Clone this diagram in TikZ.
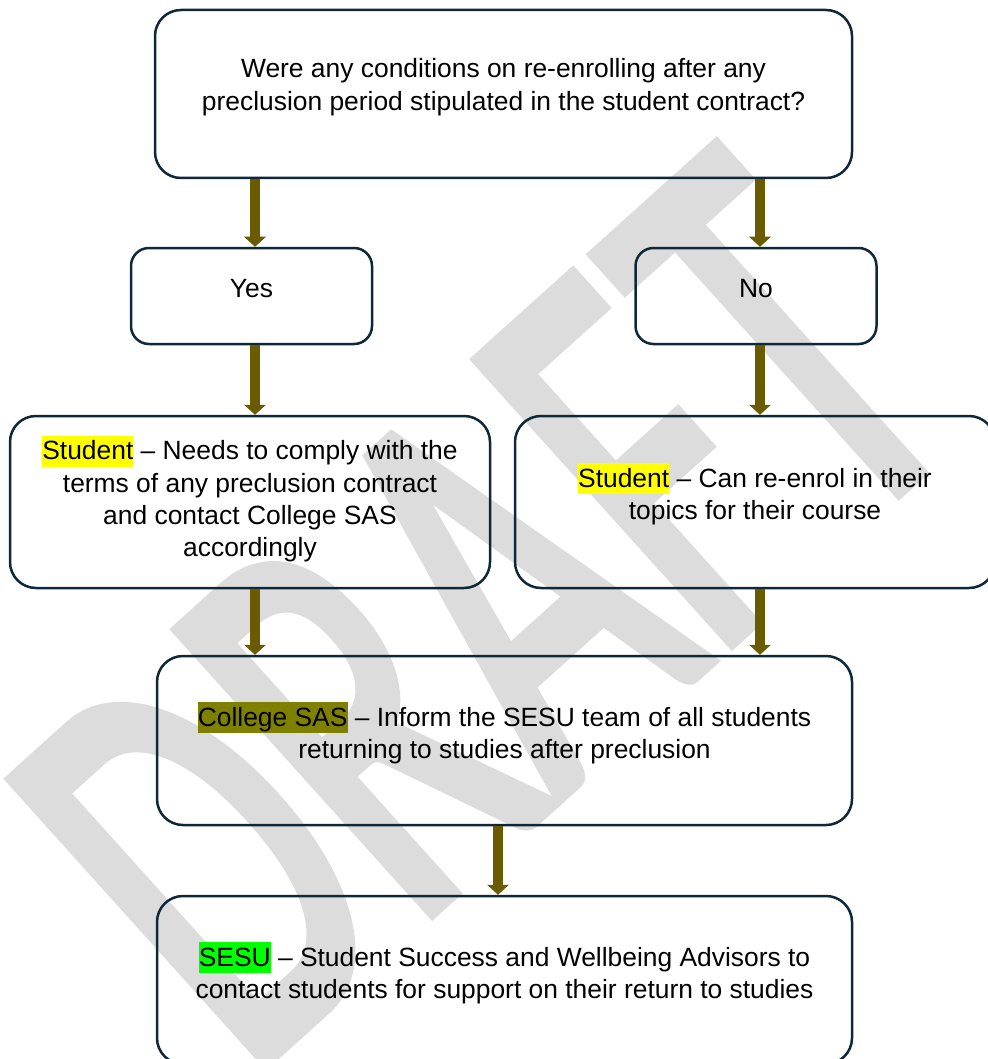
\documentclass[tikz,border=0pt]{standalone}
\usepackage{fontspec}
\setmainfont{Liberation Sans}
\newfontfamily\wmfont[FakeBold=2.5]{Carlito}
\usetikzlibrary{arrows.meta}

\definecolor{edge}{RGB}{14,40,58}
\definecolor{flow}{RGB}{107,91,0}
\definecolor{wmgray}{RGB}{220,220,220}
\definecolor{hlyellow}{RGB}{255,255,0}
\definecolor{hlolive}{RGB}{128,128,0}
\definecolor{hlgreen}{RGB}{0,255,0}

% highlighted word (marker-pen style background)
\newcommand\hlword[2]{{\setlength{\fboxsep}{0pt}\colorbox{#1}{\rule[-3.4pt]{0pt}{15.5pt}#2}}}

\begin{document}
\begin{tikzpicture}[x=0.5pt,y=-0.5pt,
  box/.style={draw=edge, line width=1.25pt, rounded corners=13pt, inner sep=0pt},
  smallbox/.style={box, rounded corners=9pt},
  txt/.style={font=\fontsize{13.2pt}{16.2pt}\selectfont, align=center, inner sep=0pt, text=black},
  arr/.style={draw=flow, line width=5pt, -{Triangle[width=11pt,length=5pt,line width=0pt]}},
  wmtext/.style={font=\wmfont\fontsize{190pt}{190pt}\selectfont, text=wmgray, inner sep=0pt}
]
\useasboundingbox (0,0) rectangle (987,1059);
\fill[white] (0,0) rectangle (987,1059);

% watermark
\node[wmtext, rotate=42] (wm) at (484,610) {\scalebox{0.95}[1.55]{DRAF\kern6pt T}};

% boxes
\node[box, minimum width=348.5pt, minimum height=84pt] (q) at (503.5,94) {};
\node[txt] (qt) at (503.5,87) {Were any conditions on re-enrolling after any\\preclusion period stipulated in the student contract?};

\node[smallbox, minimum width=120.5pt, minimum height=48pt] (yes) at (251.5,296) {};
\node[txt] (yest) at (251.5,289) {Yes};
\node[smallbox, minimum width=120.5pt, minimum height=48pt] (no) at (756,296) {};
\node[txt] (not) at (756,289) {No};

\node[box, minimum width=240pt, minimum height=86pt] (ls) at (250,502) {};
\node[txt] (lst) at (250,499) {\hlword{hlyellow}{Student} – Needs to comply with the\\terms of any preclusion contract\\and contact College SAS\\accordingly};

\node[box, minimum width=240pt, minimum height=86pt] (rs) at (755,502) {};
\node[txt] (rst) at (755,494) {\hlword{hlyellow}{Student} – Can re-enrol in their\\topics for their course};

\node[box, minimum width=347.5pt, minimum height=84.5pt] (cs) at (504.5,740.5) {};
\node[txt] (cst) at (504.5,733) {\hlword{hlolive}{College SAS} – Inform the SESU team of all students\\returning to studies after preclusion};

\node[box, minimum width=347.5pt, minimum height=84pt] (se) at (504.5,980) {};
\node[txt] (set) at (504.5,973) {\hlword{hlgreen}{SESU} – Student Success and Wellbeing Advisors to\\contact students for support on their return to studies};

% connectors
\coordinate (lx) at (255,0);
\coordinate (rx) at (760,0);
\coordinate (mx) at (498,0);
\draw[arr] (q.south -| lx) -- (yes.north -| lx);
\draw[arr] (q.south -| rx) -- (no.north -| rx);
\draw[arr] (yes.south -| lx) -- (ls.north -| lx);
\draw[arr] (no.south -| rx) -- (rs.north -| rx);
\draw[arr] (ls.south -| lx) -- (cs.north -| lx);
\draw[arr] (rs.south -| rx) -- (cs.north -| rx);
\draw[arr] (cs.south -| mx) -- (se.north -| mx);
\end{tikzpicture}
\end{document}
